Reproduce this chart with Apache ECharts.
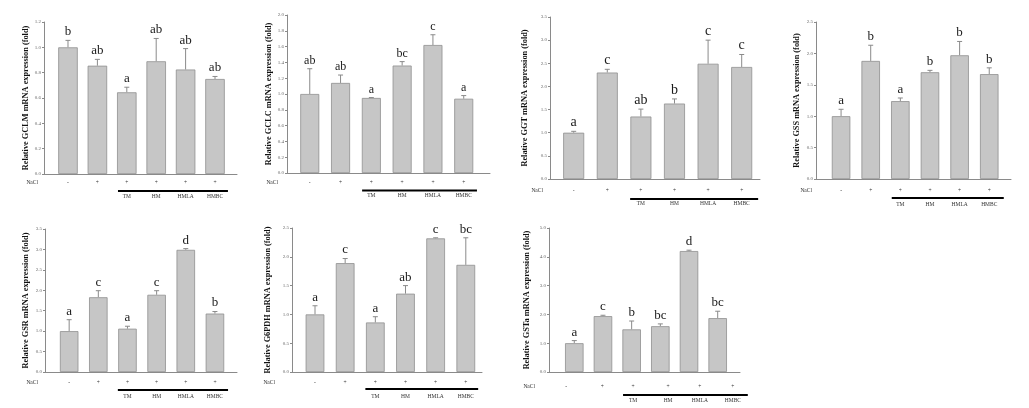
<!DOCTYPE html>
<html><head><meta charset="utf-8">
<script src="https://cdn.jsdelivr.net/npm/echarts@6/dist/echarts.min.js"></script>
<style>html,body{margin:0;padding:0;background:#fff}#c{width:1029px;height:408px}</style>
</head><body><div id="c"></div>
<script>
// ---------- data ----------
const groups = ['Control', 'NaCl', 'TM', 'HM', 'HMLA', 'HMBC'];
const naclSigns = ['-', '+', '+', '+', '+', '+'];
const treatLabels = ['TM', 'HM', 'HMLA', 'HMBC'];
const genes = ['GCLM', 'GCLC', 'GGT', 'GSS', 'GSR', 'G6PDH', 'GSTa'];

const gclmMean = [1.00, 0.855, 0.645, 0.89, 0.825, 0.75];
const gclmErr = [0.055, 0.05, 0.04, 0.18, 0.165, 0.02];
const gclmLetters = ['b', 'ab', 'a', 'ab', 'ab', 'ab'];

const gclcMean = [1.00, 1.14, 0.95, 1.36, 1.62, 0.94];
const gclcErr = [0.32, 0.10, 0.005, 0.05, 0.13, 0.04];
const gclcLetters = ['ab', 'ab', 'a', 'bc', 'c', 'a'];

const ggtMean = [1.00, 2.30, 1.35, 1.63, 2.49, 2.42];
const ggtErr = [0.03, 0.07, 0.16, 0.10, 0.51, 0.27];
const ggtLetters = ['a', 'c', 'ab', 'b', 'c', 'c'];

const gssMean = [1.00, 1.88, 1.24, 1.70, 1.97, 1.67];
const gssErr = [0.11, 0.25, 0.05, 0.03, 0.22, 0.10];
const gssLetters = ['a', 'b', 'a', 'b', 'b', 'b'];

const gsrMean = [1.00, 1.83, 1.06, 1.89, 2.99, 1.43];
const gsrErr = [0.28, 0.16, 0.06, 0.10, 0.03, 0.05];
const gsrLetters = ['a', 'c', 'a', 'c', 'd', 'b'];

const g6pdhMean = [1.00, 1.89, 0.86, 1.36, 2.32, 1.86];
const g6pdhErr = [0.15, 0.08, 0.10, 0.14, 0.01, 0.47];
const g6pdhLetters = ['a', 'c', 'a', 'ab', 'c', 'bc'];

const gstaMean = [1.00, 1.94, 1.48, 1.59, 4.20, 1.87];
const gstaErr = [0.09, 0.03, 0.29, 0.08, 0.03, 0.24];
const gstaLetters = ['a', 'c', 'b', 'bc', 'd', 'bc'];

const yMaxes = [1.2, 2.0, 3.5, 2.5, 3.5, 2.5, 5.0];
const yIntervals = [0.2, 0.2, 0.5, 0.5, 0.5, 0.5, 1.0];

const means = [gclmMean, gclcMean, ggtMean, gssMean, gsrMean, g6pdhMean, gstaMean];
const errs = [gclmErr, gclcErr, ggtErr, gssErr, gsrErr, g6pdhErr, gstaErr];
const letters = [gclmLetters, gclcLetters, ggtLetters, gssLetters, gsrLetters, g6pdhLetters, gstaLetters];

// ---------- layout ----------
const layout = [
  {grid:{left:44,top:22,width:193,height:152}, xmin:0.184, xmax:6.748, bw:19.5, nameGap:14, ls:13, dy:[9,17,23], line:[2.70,6.44], naclDx:6},
  {grid:{left:287,top:15,width:203,height:158}, xmin:0.261, xmax:6.853, bw:19, nameGap:14, ls:12, dy:[9.5,17.5,23], line:[2.70,6.43], naclDx:9},
  {grid:{left:550,top:17,width:210,height:162}, xmin:0.295, xmax:6.545, bw:21, nameGap:21, ls:14, dy:[12,20,25], line:[2.68,6.49], naclDx:7},
  {grid:{left:816,top:22,width:195,height:157}, xmin:0.154, xmax:6.734, bw:18.5, nameGap:15, ls:13, dy:[12,19,26], line:[2.71,6.49], naclDx:4},
  {grid:{left:45,top:229,width:192,height:143}, xmin:0.171, xmax:6.757, bw:18.5, nameGap:15, ls:13, dy:[11,18,25], line:[2.67,6.45], naclDx:7},
  {grid:{left:292,top:228,width:190,height:144}, xmin:0.237, xmax:6.537, bw:18.7, nameGap:20, ls:13, dy:[11,17,25], line:[2.67,6.41], naclDx:17},
  {grid:{left:549,top:228,width:191,height:144}, xmin:0.118, xmax:6.778, bw:18.5, nameGap:18, ls:13, dy:[15,23,29], line:[2.70,7.05], naclDx:14,
   tablePos:[0.72, 1.98, 3.05, 4.27, 5.38, 6.53]}
];

const serif = "'Liberation Serif','DejaVu Serif',serif";
const grids = [], xAxes = [], yAxes = [], series = [];

layout.forEach((L, i) => {
  grids.push(L.grid);
  xAxes.push({type:'value', gridIndex:i, min:L.xmin, max:L.xmax,
    axisLine:{show:true, onZero:false, lineStyle:{color:'#8a8a8a', width:1}},
    axisTick:{show:false}, axisLabel:{show:false}, splitLine:{show:false}});
  yAxes.push({type:'value', gridIndex:i, min:0, max:yMaxes[i], interval:yIntervals[i],
    name:'Relative ' + genes[i] + ' mRNA expression (fold)',
    nameLocation:'middle', nameGap:L.nameGap,
    nameTextStyle:{fontFamily:serif, fontWeight:'bold', fontSize:8.3, color:'#111'},
    axisLine:{show:true, lineStyle:{color:'#8a8a8a', width:1}},
    axisTick:{show:true, length:2, lineStyle:{color:'#8a8a8a'}},
    axisLabel:{fontSize:5, color:'#666', margin:3, fontFamily:serif,
      formatter: v => v.toFixed(1)},
    splitLine:{show:false}});

  const pos = groups.map((g, k) => k + 1);
  const m = means[i], e = errs[i], lt = letters[i];

  series.push({type:'bar', xAxisIndex:i, yAxisIndex:i, barWidth:L.bw,
    itemStyle:{color:'#c6c6c6', borderColor:'#8f8f8f', borderWidth:0.8},
    data: pos.map((p, k) => [p, m[k]]), silent:true});

  // error bars (upper only)
  series.push({type:'custom', xAxisIndex:i, yAxisIndex:i, silent:true,
    data: pos.map((p, k) => [p, m[k], m[k] + e[k]]),
    renderItem: (params, api) => {
      const a = api.coord([api.value(0), api.value(1)]);
      const b = api.coord([api.value(0), api.value(2)]);
      const st = {stroke:'#8a8a8a', lineWidth:1};
      return {type:'group', children:[
        {type:'line', shape:{x1:a[0], y1:a[1], x2:b[0], y2:b[1]}, style:st},
        {type:'line', shape:{x1:b[0]-2.5, y1:b[1], x2:b[0]+2.5, y2:b[1]}, style:st}
      ]};
    }});

  // significance letters
  series.push({type:'custom', xAxisIndex:i, yAxisIndex:i, silent:true,
    data: pos.map((p, k) => [p, m[k] + e[k], lt[k]]),
    renderItem: (params, api) => {
      const c = api.coord([api.value(0), api.value(1)]);
      return {type:'text', style:{x:c[0], y:c[1]-2, text:lt[params.dataIndex],
        textAlign:'center', textVerticalAlign:'bottom', font:L.ls+'px '+serif, fill:'#1a1a1a'}};
    }});

  // NaCl row, bracket line and treatment labels
  const tp = L.tablePos || pos;
  series.push({type:'custom', xAxisIndex:i, yAxisIndex:i, silent:true,
    data: [[0]],
    renderItem: (params, api) => {
      const ch = [];
      const base = api.coord([L.xmin, 0]);
      ch.push({type:'text', style:{x:base[0]-L.naclDx, y:base[1]+L.dy[0], text:'NaCl',
        textAlign:'right', textVerticalAlign:'middle', font:'5.5px '+serif, fill:'#333'}});
      naclSigns.forEach((s, k) => {
        const c = api.coord([tp[k], 0]);
        ch.push({type:'text', style:{x:c[0], y:c[1]+L.dy[0], text:s,
          textAlign:'center', textVerticalAlign:'middle', font:'5.5px '+serif, fill:'#333'}});
      });
      const l1 = api.coord([L.line[0], 0]), l2 = api.coord([L.line[1], 0]);
      ch.push({type:'line', shape:{x1:l1[0], y1:l1[1]+L.dy[1], x2:l2[0], y2:l2[1]+L.dy[1]},
        style:{stroke:'#000', lineWidth:2}});
      treatLabels.forEach((t, k) => {
        const c = api.coord([tp[k+2], 0]);
        ch.push({type:'text', style:{x:c[0], y:c[1]+L.dy[2], text:t,
          textAlign:'center', textVerticalAlign:'middle', font:'5.5px '+serif, fill:'#333'}});
      });
      return {type:'group', children:ch};
    }});
});

const chart = echarts.init(document.getElementById('c'), null, {renderer:'canvas'});
chart.setOption({animation:false, backgroundColor:'#fff', grid:grids, xAxis:xAxes, yAxis:yAxes, series:series});
</script></body></html>
